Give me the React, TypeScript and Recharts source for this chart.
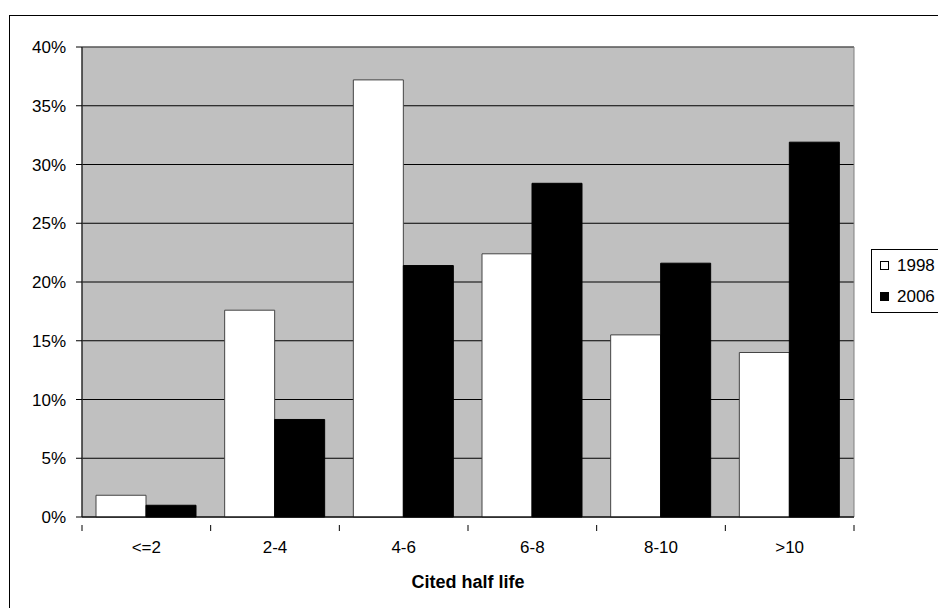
import React from 'react'
import {
  Bar,
  BarChart,
  CartesianGrid,
  Legend,
  ReferenceArea,
  XAxis,
  YAxis,
} from 'recharts'

const categories = ['<=2', '2-4', '4-6', '6-8', '8-10', '>10']
const share1998 = [1.85, 17.6, 37.2, 22.4, 15.5, 14.0]
const share2006 = [1.0, 8.3, 21.4, 28.4, 21.6, 31.9]
const yTicks = [0, 5, 10, 15, 20, 25, 30, 35, 40]

const data = categories.map((name, i) => ({
  name,
  y1998: share1998[i],
  y2006: share2006[i],
}))

const FONT = '"Liberation Sans", Arial, sans-serif'

// category label plus the separator ticks that sit between the bands
const CategoryTick = (props: any) => {
  const { x, y, payload, index } = props
  const half = payload?.offset ?? 0
  const last = index === categories.length - 1
  return (
    <g>
      <line x1={x - half} y1={y} x2={x - half} y2={y + 6} stroke='#000' />
      {last && (
        <line x1={x + half} y1={y} x2={x + half} y2={y + 6} stroke='#000' />
      )}
      <text
        x={x}
        y={y + 28}
        textAnchor='middle'
        fontSize={17}
        fontFamily={FONT}
        fill='#000'
      >
        {payload.value}
      </text>
    </g>
  )
}

const LegendBox = () => (
  <div
    style={{
      border: '1px solid #000',
      background: '#fff',
      width: 90,
      padding: '0 0 0 8px',
      fontFamily: FONT,
      fontSize: 17,
      lineHeight: '31px',
      boxSizing: 'border-box',
    }}
  >
    {[
      { label: '1998', fill: '#fff' },
      { label: '2006', fill: '#000' },
    ].map((item) => (
      <div key={item.label} style={{ display: 'flex', alignItems: 'center' }}>
        <span
          style={{
            display: 'inline-block',
            width: 7,
            height: 7,
            border: '1px solid #000',
            background: item.fill,
            marginRight: 8,
          }}
        />
        {item.label}
      </div>
    ))}
  </div>
)

export default function App() {
  return (
    <div
      style={{
        position: 'fixed',
        left: 0,
        top: 0,
        width: 938,
        height: 608,
        overflow: 'hidden',
        background: '#fff',
      }}
    >
      <div
        style={{
          position: 'absolute',
          left: 9,
          top: 15,
          width: 1000,
          height: 700,
          border: '1px solid #000',
        }}
      />
      <div style={{ position: 'absolute', left: 0, top: 0 }}>
        <BarChart
          width={938}
          height={608}
          data={data}
          margin={{ top: 47, right: 84, bottom: 0, left: 0 }}
          barCategoryGap={14}
          barGap={0}
        >
          <CartesianGrid
            vertical={false}
            fill='#C0C0C0'
            fillOpacity={1}
            stroke='#000'
          />
          <XAxis
            dataKey='name'
            height={91}
            axisLine={{ stroke: '#000' }}
            tickLine={false}
            tick={<CategoryTick />}
            interval={0}
            label={{
              value: 'Cited half life',
              position: 'insideBottom',
              offset: 20,
              style: {
                fontFamily: FONT,
                fontSize: 18,
                fontWeight: 'bold',
                fill: '#000',
              },
            }}
          />
          <YAxis
            width={82}
            domain={[0, 40]}
            ticks={yTicks}
            interval={0}
            axisLine={{ stroke: '#000' }}
            tickLine={{ stroke: '#000' }}
            tickSize={6}
            tickFormatter={(v: number) => `${v}%`}
            tick={{ fontFamily: FONT, fontSize: 17, fill: '#000', dx: -8 }}
          />
          <ReferenceArea
            y1={0}
            y2={40}
            fill='none'
            stroke='#808080'
            ifOverflow='visible'
          />
          <Bar
            dataKey='y1998'
            name='1998'
            fill='#fff'
            stroke='#444'
            strokeWidth={1}
            isAnimationActive={false}
          />
          <Bar
            dataKey='y2006'
            name='2006'
            fill='#000'
            stroke='#000'
            strokeWidth={1}
            isAnimationActive={false}
          />
          <Legend
            content={<LegendBox />}
            wrapperStyle={{
              position: 'absolute',
              left: 871,
              top: 249,
              width: 0,
              height: 0,
              overflow: 'visible',
            }}
          />
        </BarChart>
      </div>
    </div>
  )
}
